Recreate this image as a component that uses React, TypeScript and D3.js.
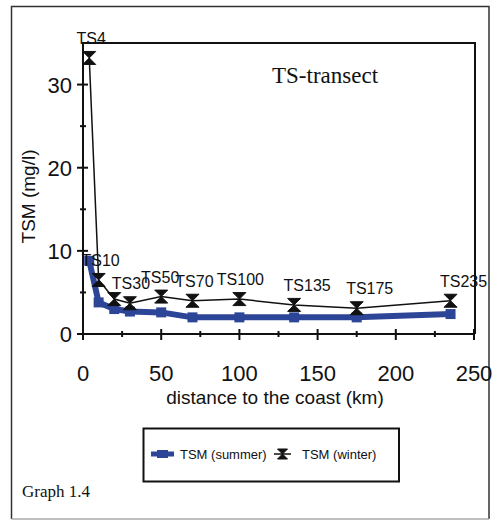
import React from "react";
import * as d3 from "d3";

const distances = [4, 10, 20, 30, 50, 70, 100, 135, 175, 235];
const summerTSM = [8.8, 3.8, 3.0, 2.7, 2.6, 2.0, 2.0, 2.0, 2.0, 2.4];
const winterTSM = [33.2, 6.5, 4.2, 3.7, 4.5, 4.0, 4.2, 3.5, 3.1, 4.0];
const stationLabels = ["TS4", "TS10", "", "TS30", "TS50", "TS70", "TS100", "TS135", "TS175", "TS235"];
const xTicks = [0, 50, 100, 150, 200, 250];
const xMinorTicks = [25, 75, 125, 175, 225];
const yTicks = [0, 10, 20, 30];
const yMinorTicks = [5, 15, 25];
const seriesNames = ["TSM (summer)", "TSM (winter)"];

const labelDx = [2, 2, 0, 1, -1, 2, 1, 13, 13, 13];

const BLUE = "#2D4597";
const SANS = "Liberation Sans, Arial, sans-serif";
const SERIF = "Liberation Serif, Times New Roman, serif";

function hourglass(cx: number, cy: number, s = 6) {
  return `M${cx - s},${cy - s}H${cx + s}L${cx},${cy}L${cx + s},${cy + s}H${cx - s}L${cx},${cy}Z`;
}

export default function App() {
  const x = d3.scaleLinear().domain([0, 250]).range([83, 474]);
  const y = d3.scaleLinear().domain([0, 35]).range([334, 43]);
  const line = d3
    .line<[number, number]>()
    .x((d) => x(d[0]))
    .y((d) => y(d[1]));
  const summerPts: [number, number][] = distances.map((d, i) => [d, summerTSM[i]]);
  const winterPts: [number, number][] = distances.map((d, i) => [d, winterTSM[i]]);

  return (
    <svg
      width={499}
      height={521}
      style={{ position: "absolute", left: 0, top: 0, background: "#fff" }}
    >
      {/* outer frame */}
      <path d="M11.5,519V6.5H489V519" fill="none" stroke="#333" strokeWidth={1.5} />
      <line x1={11.5} x2={489} y1={519} y2={519} stroke="#aaa" strokeWidth={1.5} />

      {/* plot frame top/right */}
      <path d={`M${x(0)},${y(35)}H${x(250) + 1}V${y(0)}`} fill="none" stroke="#111" strokeWidth={2} />

      {/* y axis */}
      <line x1={x(0)} x2={x(0)} y1={y(35) - 1} y2={y(0)} stroke="#111" strokeWidth={2} />
      {yTicks.map((t) => (
        <g key={"yt" + t}>
          <line x1={x(0) - 6} x2={x(0) + 5} y1={y(t)} y2={y(t)} stroke="#111" strokeWidth={2} />
          <text x={72} y={y(t) + 8} textAnchor="end" fontFamily={SANS} fontSize={22} fill="#111">
            {t}
          </text>
        </g>
      ))}
      {yMinorTicks.map((t) => (
        <line key={"ym" + t} x1={x(0) - 3} x2={x(0) + 3} y1={y(t)} y2={y(t)} stroke="#111" strokeWidth={2} />
      ))}

      {/* x axis */}
      <line x1={x(0)} x2={x(250) + 1} y1={y(0)} y2={y(0)} stroke="#111" strokeWidth={2} />
      {xTicks.map((t) => (
        <g key={"xt" + t}>
          <line x1={x(t)} x2={x(t)} y1={y(0) - 5} y2={y(0) + 6} stroke="#111" strokeWidth={2} />
          <text x={x(t)} y={381} textAnchor="middle" fontFamily={SANS} fontSize={22} fill="#111">
            {t}
          </text>
        </g>
      ))}
      {xMinorTicks.map((t) => (
        <line key={"xm" + t} x1={x(t)} x2={x(t)} y1={y(0) - 3} y2={y(0) + 3} stroke="#111" strokeWidth={2} />
      ))}

      {/* axis titles */}
      <text x={275} y={404} textAnchor="middle" fontFamily={SANS} fontSize={19} fill="#111">
        distance to the coast (km)
      </text>
      <text
        transform={`translate(35,${y(17.5) + 8}) rotate(-90)`}
        textAnchor="middle"
        fontFamily={SANS}
        fontSize={19}
        fill="#111"
      >
        TSM (mg/l)
      </text>

      {/* chart title */}
      <text x={272} y={83} fontFamily={SERIF} fontSize={23} fill="#111">
        TS-transect
      </text>

      {/* summer series */}
      <path d={line(summerPts) || ""} fill="none" stroke={BLUE} strokeWidth={6} strokeLinejoin="round" />
      {summerPts.map((p, i) => (
        <rect key={"s" + i} x={x(p[0]) - 5} y={y(p[1]) - 5} width={10} height={10} fill={BLUE} />
      ))}

      {/* winter series */}
      <path d={line(winterPts) || ""} fill="none" stroke="#111" strokeWidth={1.5} />
      {winterPts.map((p, i) => (
        <path key={"w" + i} d={hourglass(x(p[0]), y(p[1]), 6.5)} fill="#111" stroke="#111" strokeWidth={1} />
      ))}

      {/* station labels */}
      {winterPts.map((p, i) =>
        stationLabels[i] ? (
          <text
            key={"l" + i}
            x={x(p[0]) + labelDx[i]}
            y={y(p[1]) - 14}
            textAnchor="middle"
            fontFamily={SANS}
            fontSize={16}
            fill="#111"
          >
            {stationLabels[i]}
          </text>
        ) : null
      )}

      {/* legend */}
      <rect x={143.5} y={428.5} width={255.5} height={53} fill="#fff" stroke="#111" strokeWidth={2} />
      <line x1={151} x2={174} y1={454} y2={454} stroke={BLUE} strokeWidth={5} />
      <rect x={157} y={450} width={11} height={8} fill={BLUE} />
      <text x={180} y={459} fontFamily={SANS} fontSize={13} fill="#111">
        {seriesNames[0]}
      </text>
      <line x1={274} x2={291} y1={454} y2={454} stroke="#111" strokeWidth={1.5} />
      <path d={hourglass(282.5, 454, 5)} fill="#111" stroke="#111" strokeWidth={1} />
      <text x={302} y={459} fontFamily={SANS} fontSize={13} fill="#111">
        {seriesNames[1]}
      </text>

      <text x={22} y={497} fontFamily={SERIF} fontSize={17} fill="#111">
        Graph 1.4
      </text>
    </svg>
  );
}
